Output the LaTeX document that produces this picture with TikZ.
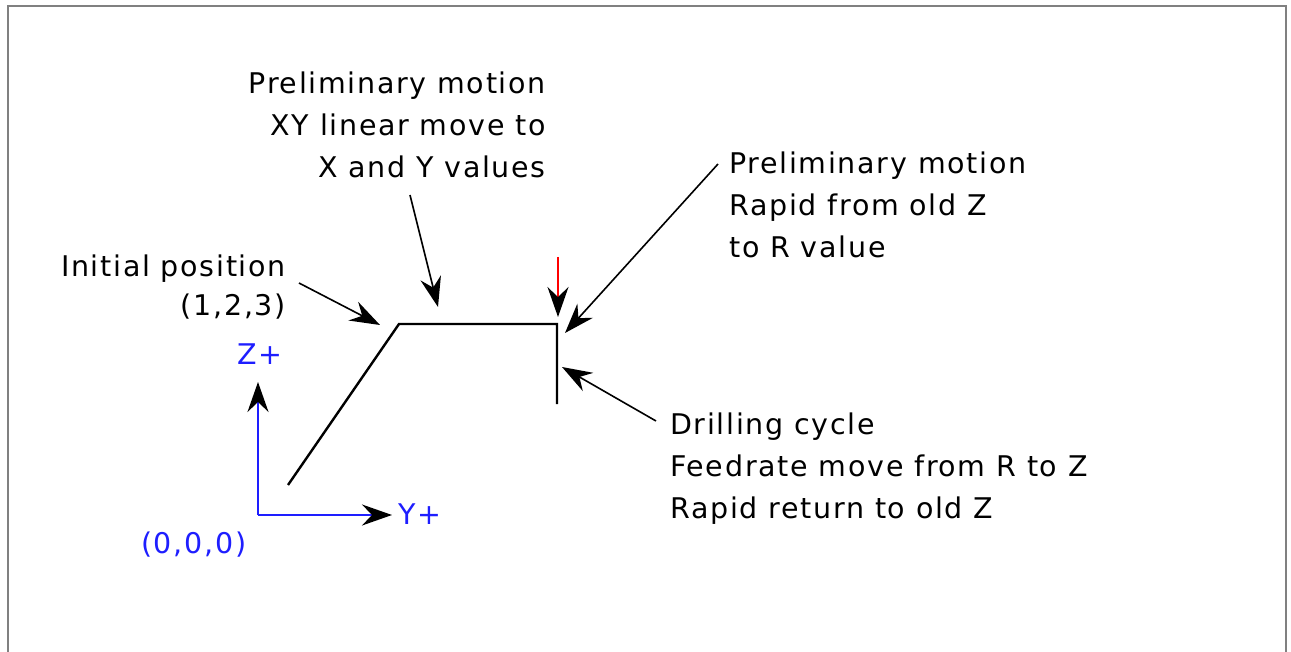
\documentclass[tikz,border=0pt]{standalone}
\usepackage{fontspec}
\setmainfont{DejaVu Sans}[LetterSpace=6]
\usetikzlibrary{arrows.meta}
\definecolor{axisblue}{RGB}{30,30,255}
\definecolor{framegray}{RGB}{128,128,128}
\tikzset{
  lbl/.style={inner sep=0pt, font=\fontsize{28.5}{42}\selectfont},
  lblr/.style={lbl, anchor=base east},
  lbll/.style={lbl, anchor=base west},
  bluelbl/.style={lbl, text=axisblue},
  head/.style={-{Stealth[length=30pt,width=21pt,inset=10pt,color=black]}},
  pointer/.style={head, draw=black, line width=1.6pt},
  toolpath/.style={draw=black, line width=2.4pt},
  axis/.style={head, draw=axisblue, line width=2.2pt},
}
\begin{document}
\begin{tikzpicture}[x=1pt,y=-1pt]
\useasboundingbox (0,0) rectangle (1291,652);
\clip (0,0) rectangle (1291,652);
\fill[white] (0,0) rectangle (1291,652);
\draw[framegray, line width=2.5pt] (8,6) -- (1286,6) -- (1286,700) -- (8,700) -- cycle;

% tool path
\coordinate (p0) at (288,485);
\coordinate (p1) at (399,324);
\coordinate (p2) at (557,324);
\coordinate (p3) at (557,404);
\draw[toolpath, line join=miter] (p0) -- (p1) -- (p2) -- (p3);

% labels: XY move
\node[lblr] (xy1) at (546,94) {Preliminary motion};
\node[lblr] (xy2) at (546,136) {XY linear move to};
\node[lblr] (xy3) at (546,178) {X and Y values};

% labels: rapid to R
\node[lbll] (r1) at (729,174) {Preliminary motion};
\node[lbll] (r2) at (729,216) {Rapid from old Z};
\node[lbll] (r3) at (729,258) {to R value};

% labels: initial position
\node[lblr] (i1) at (286,277) {Initial position};
\node[lblr] (i2) at (286,316) {(1,2,3)};

% labels: drilling cycle
\node[lbll] (d1) at (670,434) {Drilling cycle};
\node[lbll] (d2) at (670,476) {Feedrate move from R to Z};
\node[lbll] (d3) at (670,518) {Rapid return to old Z};

% axes labels
\node[bluelbl, anchor=base west] (zp) at (237,365) {Z+};
\node[bluelbl, anchor=base west] (yp) at (398,524) {Y+};
\node[bluelbl, anchor=base west] (org) at (141,553) {(0,0,0)};

% pointer arrows
\coordinate (a1s) at (299,283);
\coordinate (a1e) at (380,325);
\draw[pointer] (a1s) -- (a1e);
\coordinate (a2s) at (410,195);
\coordinate (a2e) at (438,307);
\draw[pointer] (a2s) -- (a2e);
\coordinate (a4s) at (718,164);
\coordinate (a4e) at (565,333);
\draw[pointer] (a4s) -- (a4e);
\coordinate (a5s) at (656,421);
\coordinate (a5e) at (562,367);
\draw[pointer] (a5s) -- (a5e);

% red arrow
\coordinate (rs) at (558,257);
\coordinate (re) at (558,317);
\draw[head, draw=red, line width=1.5pt] (rs) -- (re);

% axes
\coordinate (o) at (258,515);
\coordinate (zt) at (258,382);
\coordinate (yt) at (392,515);
\draw[axis] (o) -- (zt);
\draw[axis] (o) -- (yt);
\end{tikzpicture}
\end{document}
